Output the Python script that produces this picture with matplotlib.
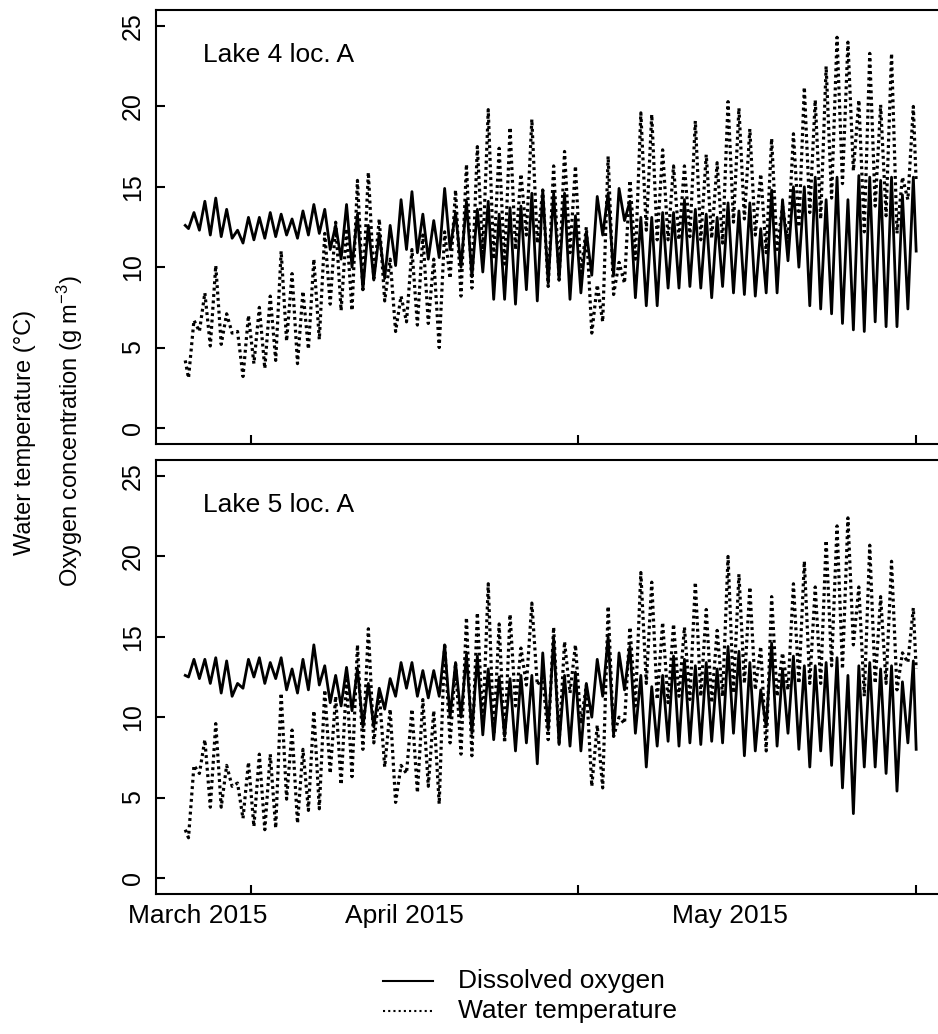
import numpy as np
import matplotlib
matplotlib.use("Agg")
import matplotlib.pyplot as plt
from matplotlib import font_manager
from matplotlib.lines import Line2D

plt.rcParams['font.family'] = ['Liberation Sans', 'DejaVu Sans']
plt.rcParams['mathtext.default'] = 'regular'

# daily minima (early morning) and maxima (afternoon), one value per day
top_do_start, top_do_end = 12.6, 11.0
top_do_min = [12.4, 12.3, 12.0, 11.9, 11.8, 11.5, 11.7, 11.8, 11.9, 12.0, 11.8, 12.0, 12.1,
              11.1, 10.5, 10.0, 8.6, 9.2, 9.3, 10.1, 11.1, 10.9, 10.5, 10.6, 11.1, 10.0,
              9.4, 9.7, 8.0, 8.0, 7.7, 8.6, 7.9, 9.0, 9.2, 8.0, 8.4, 9.5, 12.0, 9.5,
              12.9, 8.1, 7.6, 7.6, 8.7, 8.7, 8.8, 8.7, 8.1, 8.8, 8.4, 8.3, 8.2,
              8.4, 8.4, 10.4, 10.0, 7.6, 7.4, 7.1, 6.5, 6.1, 6.0, 6.6, 6.3, 6.3, 7.4]
top_do_max = [13.4, 14.1, 14.3, 13.6, 12.3, 13.1, 13.1, 13.4, 13.3, 13.0, 13.5, 13.9, 13.6,
              12.6, 13.9, 13.3, 12.6, 12.1, 12.6, 14.2, 14.7, 13.3, 12.9, 14.9, 13.4, 14.1,
              13.6, 14.1, 13.3, 13.7, 13.8, 14.6, 14.8, 14.6, 14.6, 13.2, 12.2, 14.4, 14.6, 14.9,
              14.1, 13.1, 13.1, 13.4, 13.4, 14.2, 13.6, 13.3, 13.1, 14.0, 13.5, 14.0, 12.4,
              14.8, 14.2, 15.0, 15.0, 15.6, 14.2, 15.6, 14.2, 15.7, 15.6, 15.4, 15.6, 14.5, 15.6]
top_t_start, top_t_end = 4.2, 15.3
top_t_min = [3.1, 6.0, 5.1, 5.2, 5.9, 3.2, 4.0, 3.7, 4.2, 5.4, 4.0, 4.9, 5.5,
             7.7, 7.3, 7.3, 8.6, 9.3, 7.9, 6.0, 6.6, 6.4, 6.5, 5.0, 9.3, 8.2,
             8.7, 10.9, 10.5, 10.2, 11.1, 12.0, 11.5, 8.8, 9.2, 10.9, 9.5, 5.9, 6.6, 8.3,
             9.0, 10.5, 12.3, 11.7, 11.7, 11.7, 11.9, 11.7, 11.8, 11.5, 12.8, 13.0, 12.0,
             10.9, 11.1, 11.5, 12.5, 13.4, 13.0, 14.3, 15.2, 16.0, 12.2, 13.8, 13.2, 12.1, 14.2]
top_t_max = [6.7, 8.4, 10.1, 7.1, 6.0, 7.0, 7.5, 8.2, 11.0, 9.6, 8.5, 10.5, 12.1,
             12.8, 12.4, 15.4, 15.9, 13.0, 10.5, 8.2, 11.1, 12.0, 10.5, 12.2, 14.8, 16.4,
             17.5, 19.8, 17.4, 18.7, 15.8, 19.2, 14.8, 16.3, 17.2, 16.3, 12.5, 8.9, 16.9, 10.3,
             15.4, 19.6, 19.5, 17.3, 16.3, 16.3, 19.1, 17.0, 16.5, 20.3, 19.9, 18.6, 15.8,
             18.0, 13.8, 18.3, 21.2, 20.4, 22.5, 24.3, 24.0, 20.4, 23.3, 20.1, 23.3, 15.6, 20.0]

bot_do_start, bot_do_end = 12.6, 8.0
bot_do_min = [12.5, 12.4, 12.1, 11.5, 11.3, 11.8, 12.5, 12.1, 12.4, 11.7, 11.5, 11.7, 12.0,
              10.9, 10.7, 10.4, 9.4, 9.4, 10.5, 11.3, 11.8, 11.3, 11.2, 11.3, 10.0, 10.0,
              9.0, 8.9, 8.6, 8.8, 7.9, 8.4, 7.1, 9.2, 8.3, 8.2, 7.9, 10.0, 11.3, 8.9,
              11.7, 9.0, 6.9, 8.2, 8.5, 8.2, 8.4, 8.3, 8.5, 8.4, 9.0, 7.6, 7.9,
              9.4, 8.2, 9.0, 8.0, 6.9, 7.9, 7.0, 5.6, 4.0, 6.9, 6.9, 6.5, 5.4, 8.4]
bot_do_max = [13.6, 13.6, 13.7, 13.5, 12.1, 13.6, 13.7, 13.4, 13.7, 13.0, 13.6, 14.5, 13.2,
              12.6, 13.1, 13.0, 12.1, 11.8, 12.4, 13.4, 13.4, 12.9, 12.9, 14.5, 13.4, 13.9,
              13.8, 13.0, 12.5, 12.4, 12.6, 12.6, 14.0, 14.9, 12.6, 12.8, 12.1, 13.6, 15.0, 14.0,
              14.4, 12.6, 11.9, 12.6, 13.8, 13.6, 13.2, 13.4, 13.0, 14.4, 14.1, 13.4, 11.7,
              14.6, 13.0, 13.8, 13.2, 13.2, 13.4, 13.7, 12.6, 13.2, 13.4, 13.0, 13.2, 12.2, 13.5]
bot_t_start, bot_t_end = 3.0, 13.0
bot_t_min = [2.5, 6.5, 4.4, 4.4, 5.7, 3.7, 3.2, 3.0, 3.1, 4.9, 3.4, 4.2, 4.3,
             6.5, 5.8, 6.3, 8.0, 8.4, 6.9, 4.7, 6.5, 5.3, 5.7, 4.6, 8.4, 7.7,
             7.6, 9.4, 8.9, 8.4, 10.7, 12.0, 12.0, 8.6, 8.4, 11.5, 9.6, 5.7, 5.6, 8.8,
             9.6, 10.7, 12.1, 11.1, 10.9, 11.3, 11.1, 11.3, 10.9, 11.3, 11.5, 12.1, 11.7,
             7.9, 11.3, 11.7, 12.1, 12.1, 12.1, 13.2, 13.0, 14.5, 11.3, 12.1, 12.1, 11.7, 13.4]
bot_t_max = [7.0, 8.6, 9.6, 7.0, 5.9, 7.2, 7.7, 7.7, 11.5, 9.2, 8.0, 10.4, 11.7,
             11.3, 12.3, 14.5, 15.5, 11.5, 10.5, 7.0, 10.5, 11.1, 10.4, 14.6, 13.4, 16.2,
             16.5, 18.3, 15.8, 16.4, 14.3, 17.1, 12.5, 15.6, 14.7, 14.5, 12.0, 9.5, 16.9, 10.0,
             15.6, 19.0, 18.4, 15.9, 15.8, 15.6, 18.4, 16.7, 15.4, 20.0, 18.9, 18.1, 14.4,
             17.5, 14.0, 18.3, 19.7, 18.1, 21.0, 21.9, 22.4, 18.1, 20.7, 17.5, 19.7, 14.0, 16.8]

last_day = 67.06
tick_days = [6.06, 36.06, 67.06]
month_labels = ['March 2015', 'April 2015', 'May 2015']
month_label_days = [1.1, 20.1, 50.0]
panel_names = ['Lake 4 loc. A', 'Lake 5 loc. A']


def series(start, mins, maxs, end):
    k = np.arange(len(mins))
    t = np.column_stack([k + 0.3, k + 0.8]).ravel()
    v = np.column_stack([mins, maxs]).ravel()
    return (np.concatenate([[0.0], t, [last_day]]),
            np.concatenate([[start], v, [end]]))


avail = {f.name for f in font_manager.fontManager.ttflist}
if 'Liberation Sans Narrow' in avail:
    month_font, month_size = 'Liberation Sans Narrow', 23
else:
    month_font, month_size = 'Liberation Sans', 19

W, H = 938, 1034
fig = plt.figure(figsize=(W / 100, H / 100), dpi=100)
ax_w = 789.4 / W
ax_h = 434 / H
ax1 = fig.add_axes([156 / W, 1 - 444 / H, ax_w, ax_h])
ax2 = fig.add_axes([156 / W, 1 - 894 / H, ax_w, ax_h])

panels = [
    (ax1, (top_do_start, top_do_min, top_do_max, top_do_end),
     (top_t_start, top_t_min, top_t_max, top_t_end)),
    (ax2, (bot_do_start, bot_do_min, bot_do_max, bot_do_end),
     (bot_t_start, bot_t_min, bot_t_max, bot_t_end)),
]

for i, (ax, do, tw) in enumerate(panels):
    t, v = series(*tw)
    ax.plot(t, v, color='black', lw=2.3, linestyle=(0, (0.9, 1.1)),
            dash_capstyle='butt', solid_joinstyle='round')
    t, v = series(*do)
    ax.plot(t, v, color='black', lw=2.0, solid_joinstyle='round')
    ax.set_xlim(-0.04 * last_day, last_day * 1.04)
    ax.set_ylim(-1, 26)
    ax.set_yticks([0, 5, 10, 15, 20, 25])
    ax.set_xticks(tick_days)
    ax.tick_params(axis='both', direction='in', length=6.5, width=1.5,
                   labelsize=18, pad=8)
    ax.tick_params(axis='y', labelrotation=90)
    for lab in ax.get_yticklabels():
        lab.set_va('center')
    ax.tick_params(axis='x', labelbottom=False)
    for s in ax.spines.values():
        s.set_linewidth(1.5)
    ax.text(0.0596, 0.896, panel_names[i], transform=ax.transAxes,
            fontsize=19, ha='left', va='center')

for d, lab in zip(month_label_days, month_labels):
    ax2.text(d, -0.05, lab, transform=ax2.get_xaxis_transform(),
             fontsize=month_size, family=month_font, ha='center', va='center')

fig.text(25 / W, 1 - 432 / H, 'Water temperature (\u00b0C)', rotation=90,
         ha='center', va='center', fontsize=17)
fig.text(70 / W, 1 - 431 / H, 'Oxygen concentration (g m$^{\u22123}$)', rotation=90,
         ha='center', va='center', fontsize=17)

# legend
fig.add_artist(Line2D([383 / W, 433 / W], [1 - 981 / H] * 2, color='black', lw=1.5,
                      transform=fig.transFigure))
fig.add_artist(Line2D([383 / W, 433 / W], [1 - 1011 / H] * 2, color='black', lw=1.5,
                      linestyle=(0, (1.0, 1.5)), transform=fig.transFigure))
fig.text(458 / W, 1 - 981 / H, 'Dissolved oxygen', fontsize=19, ha='left', va='center')
fig.text(458 / W, 1 - 1011 / H, 'Water temperature', fontsize=19, ha='left', va='center')

fig.savefig('out.png', dpi=100, facecolor='white')
